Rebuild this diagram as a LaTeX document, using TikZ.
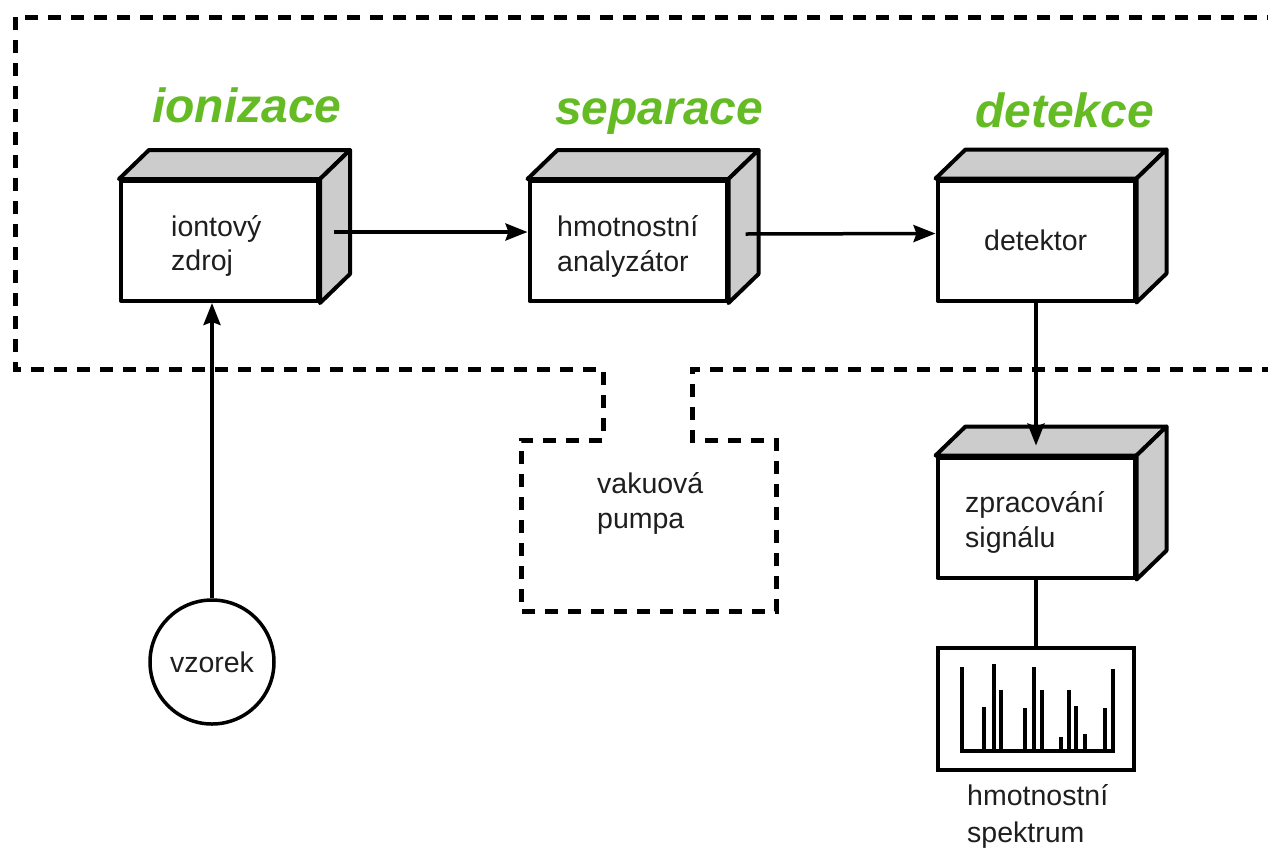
\documentclass[tikz,border=0pt]{standalone}
\usepackage{fontspec}
\setmainfont{Liberation Sans}
\usetikzlibrary{arrows.meta}
\definecolor{stagegreen}{RGB}{100,187,35}
\definecolor{facegrey}{RGB}{204,204,204}
\definecolor{txt}{RGB}{30,30,30}
\tikzset{
  front/.style={draw, line width=4pt, fill=white, minimum width=197pt, minimum height=120pt, inner sep=0pt, line join=round},
  face/.style={draw, line width=4pt, fill=facegrey, line join=round},
  lbl/.style={anchor=base west, inner sep=0pt, text=txt, font=\fontsize{28.5}{34}\selectfont},
  stage/.style={anchor=base west, inner sep=0pt, text=stagegreen, font=\fontsize{48}{56}\selectfont\bfseries\itshape},
  arr/.style={line width=3.5pt, -{Stealth[length=22pt,width=17pt,inset=3pt]}},
  conn/.style={line width=3.5pt},
  vac/.style={line width=5pt, dash pattern=on 13pt off 10pt},
  bar/.style={line width=4pt}
}
\newcommand\cubefaces[1]{%
  \path[face] (#1.north west) -- ([shift={(30,-29)}]#1.north west) -- ([shift={(30,-29)}]#1.north east) -- (#1.north east) -- cycle;
  \path[face] (#1.north east) -- ([shift={(30,-29)}]#1.north east) -- ([shift={(30,-29)}]#1.south east) -- (#1.south east) -- cycle;
}
\begin{document}
\begin{tikzpicture}[x=1pt,y=-1pt]
\useasboundingbox (0,0) rectangle (1268,852);
\fill[white] (0,0) rectangle (1268,852);

% vacuum enclosure
\draw[vac] (1280,17) -- (15,17) -- (15,369) -- (603,369) -- (603,440) -- (521,440) -- (521,611) -- (776,611) -- (776,440) -- (692,440) -- (692,369) -- (1280,369);

% stage labels
\node[stage] (sion) at (152,122) {ionizace};
\node[stage] (ssep) at (555,124) {separace};
\node[stage] (sdet) at (975,127) {detekce};

% boxes
\node[front] (b1) at (219.5,241) {};
\cubefaces{b1}
\node[front] (b2) at (628,241) {};
\cubefaces{b2}
\node[front] (b3) at (1036,240.5) {};
\cubefaces{b3}
\node[front] (b4) at (1036,517.5) {};
\cubefaces{b4}

% texts in boxes
\node[lbl] (t1a) at (171,236) {iontový};
\node[lbl] (t1b) at (171,270) {zdroj};
\node[lbl] (t2a) at (557,236) {hmotnostní};
\node[lbl] (t2b) at (557,271) {analyzátor};
\node[lbl] (t3) at (984,250) {detektor};
\node[lbl] (t4a) at (965,512) {zpracování};
\node[lbl] (t4b) at (965,547) {signálu};
\node[lbl] (tp1) at (597,493) {vakuová};
\node[lbl] (tp2) at (597,528) {pumpa};

% sample
\node[draw, circle, line width=3.5pt, minimum size=124pt, inner sep=0pt, text=txt, font=\fontsize{28.5}{34}\selectfont] (v) at (212,662) {vzorek};

% spectrum box
\node[draw, line width=4pt, minimum width=196pt, minimum height=122pt, inner sep=0pt] (sp) at (1036,709) {};
\draw[bar] (962,751) -- (1115,751);
\foreach \x/\t in {962/667, 984/707, 994/664, 1001/690, 1025/708, 1034/667, 1042/690, 1061/737, 1069/690, 1076/706, 1085/734, 1105/708, 1113/669}
  \draw[bar] (\x,753) -- (\x,\t);
\node[lbl] (ts1) at (967,805) {hmotnostní};
\node[lbl] (ts2) at (967,842) {spektrum};

% connectors
\draw[arr] (v.north) -- (v.north |- b1.south);
\draw[arr] ([shift={(14,-9)}]b1.east) -- ([shift={(0,-9)}]b2.west);
\draw[arr] ([shift={(17,-7)}]b2.east) -- ([shift={(0,-7)}]b3.west);
\draw[arr] (b3.south) -- ([shift={(0,-10)}]b4.north);
\draw[conn] (b4.south) -- (sp.north);
\end{tikzpicture}
\end{document}
